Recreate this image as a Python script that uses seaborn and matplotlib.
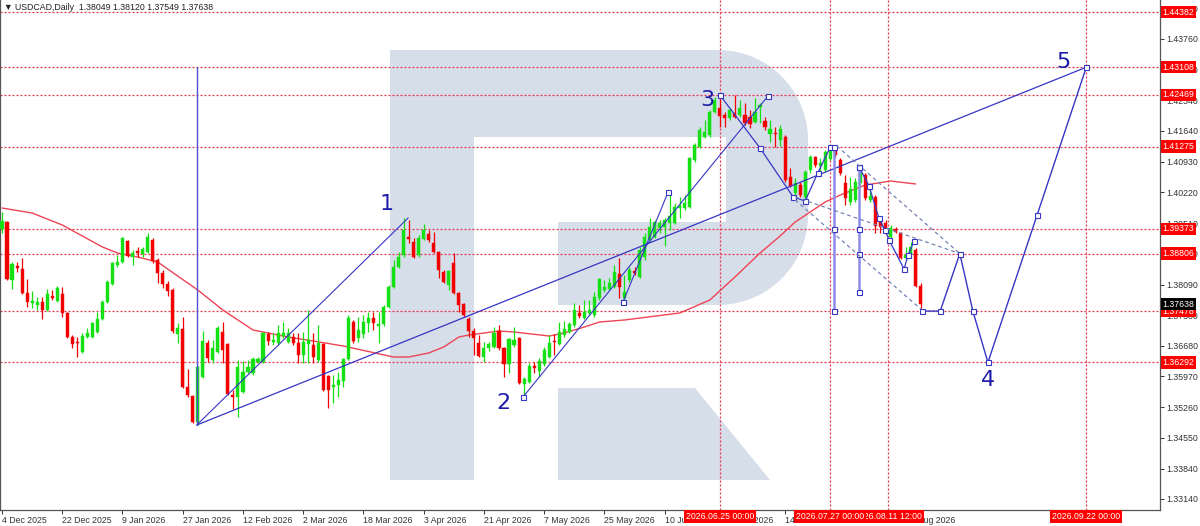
import matplotlib
matplotlib.use("Agg")
import matplotlib.pyplot as plt
import matplotlib.transforms as mtransforms
from matplotlib.patches import Polygon
import numpy as np
import seaborn as sns

sns.set_theme(style="white")
plt.rcParams['font.family'] = ['Liberation Sans', 'DejaVu Sans']

# ---------------- data ----------------
opens = [1.39373,1.39534,1.38195,1.38518,1.38449,1.37895,1.37664,1.37618,1.37687,1.37502,
1.37826,1.37710,1.37872,1.37433,1.36879,1.36764,1.36533,1.36879,1.36879,1.36994,
1.37295,1.37687,1.38103,1.38541,1.38611,1.39096,1.38726,1.38865,1.38795,1.38842,
1.39119,1.38657,1.38357,1.38103,1.37964,1.36948,1.37064,1.35725,1.35517,1.34917,
1.35956,1.36741,1.36348,1.36533,1.36994,1.36717,1.35540,1.35494,1.35609,1.36071,
1.36048,1.36302,1.36302,1.36948,1.36764,1.36741,1.36902,1.36764,1.36879,1.36741,
1.36464,1.36717,1.36695,1.36348,1.36717,1.35979,1.35725,1.35771,1.35863,1.36371,
1.37225,1.36856,1.36948,1.37202,1.37318,1.37133,1.37179,1.37572,1.38034,1.38495,
1.38772,1.39188,1.39073,1.38772,1.39142,1.39257,1.39050,1.38842,1.38380,1.38080,
1.38588,1.37895,1.37641,1.37295,1.37018,1.36741,1.36418,1.36625,1.36649,1.37018,
1.36625,1.36256,1.36695,1.36856,1.35794,1.35840,1.36210,1.36094,1.36256,1.36418,
1.36787,1.36717,1.36925,1.36994,1.37156,1.37433,1.37318,1.37433,1.37387,1.37780,
1.37964,1.37987,1.38034,1.38334,1.37780,1.38195,1.38403,1.38264,1.38726,1.39119,
1.39188,1.39396,1.39419,1.39511,1.39511,1.39858,1.39858,1.39881,1.40966,1.41266,
1.41497,1.41543,1.42074,1.42166,1.42005,1.41936,1.42051,1.42005,1.42005,1.41959,
1.41843,1.42189,1.41866,1.41566,1.41589,1.41428,1.41497,1.40574,1.40204,1.40389,
1.40112,1.40735,1.41035,1.40827,1.40735,1.40990,1.41197,1.40966,1.40435,1.39996,
1.40042,1.40435,1.40620,1.40042,1.40112,1.39627,1.39511,1.39188,1.39373,1.39281,
1.38703,1.38772,1.38888,1.38049]
highs = [1.39765,1.39557,1.38611,1.38611,1.38703,1.38218,1.37941,1.37803,1.37803,1.37987,
1.37964,1.38057,1.38034,1.37456,1.36925,1.36879,1.36971,1.37087,1.37225,1.37456,
1.37733,1.38195,1.38611,1.38772,1.39188,1.39119,1.38888,1.38957,1.38957,1.39281,
1.39165,1.38703,1.38426,1.38172,1.38010,1.37202,1.37341,1.36140,1.35540,1.36210,
1.37018,1.36810,1.36810,1.37133,1.37225,1.36741,1.35655,1.36348,1.36325,1.36348,
1.36417,1.36417,1.36994,1.36994,1.36971,1.37156,1.37225,1.37087,1.36971,1.36971,
1.36994,1.37502,1.36971,1.37156,1.36741,1.36002,1.36002,1.36071,1.36394,1.37387,
1.37272,1.37341,1.37387,1.37456,1.37456,1.37456,1.37618,1.38080,1.38657,1.38842,
1.39627,1.39580,1.39165,1.39234,1.39488,1.39350,1.39303,1.38865,1.38426,1.38426,
1.38818,1.37918,1.37664,1.37341,1.37087,1.36925,1.36764,1.36764,1.37110,1.37156,
1.36649,1.36856,1.37110,1.36879,1.35956,1.36279,1.36302,1.36394,1.36649,1.36925,
1.36948,1.37225,1.37248,1.37225,1.37664,1.37618,1.37733,1.37733,1.37918,1.38241,
1.38195,1.38241,1.38541,1.38703,1.38311,1.38495,1.38495,1.38957,1.39281,1.39627,
1.39580,1.39580,1.39627,1.40227,1.39973,1.40112,1.40158,1.41035,1.41359,1.41728,
1.41889,1.42120,1.42420,1.42467,1.42074,1.42166,1.42467,1.42351,1.42282,1.42120,
1.42397,1.42282,1.41959,1.41889,1.41728,1.41774,1.41543,1.40781,1.40551,1.40458,
1.40735,1.41081,1.41058,1.41012,1.41197,1.41266,1.41243,1.41012,1.40620,1.40573,
1.40551,1.40804,1.40666,1.40343,1.40158,1.39650,1.39580,1.39465,1.39419,1.39303,
1.38957,1.39073,1.38934,1.38120]
lows = [1.39281,1.38195,1.37987,1.38380,1.37872,1.37572,1.37549,1.37502,1.37295,1.37479,
1.37733,1.37687,1.37341,1.36856,1.36625,1.36418,1.36510,1.36856,1.36856,1.36971,
1.37272,1.37664,1.38080,1.38495,1.38588,1.38726,1.38541,1.38726,1.38726,1.38818,
1.38588,1.38126,1.38010,1.37826,1.36971,1.36741,1.35701,1.35494,1.34894,1.34847,
1.35933,1.36302,1.36279,1.36510,1.36279,1.35540,1.35217,1.35032,1.35586,1.36048,
1.36002,1.36279,1.36279,1.36695,1.36695,1.36695,1.36856,1.36741,1.36695,1.36279,
1.36279,1.36279,1.36279,1.36302,1.35632,1.35240,1.35355,1.35494,1.35725,1.36348,
1.36741,1.36764,1.36856,1.36994,1.37041,1.36741,1.37133,1.37549,1.38010,1.38472,
1.38726,1.39050,1.38703,1.38726,1.39119,1.39073,1.38818,1.38241,1.38126,1.37964,
1.37872,1.37456,1.37341,1.36879,1.36464,1.36418,1.36302,1.36556,1.36625,1.36579,
1.35956,1.36048,1.36649,1.35794,1.35494,1.35817,1.36048,1.35956,1.36210,1.36394,
1.36464,1.36695,1.36879,1.36971,1.37110,1.37318,1.37295,1.37387,1.37341,1.37733,
1.37918,1.37964,1.38010,1.37780,1.37687,1.38149,1.38311,1.38241,1.38657,1.39073,
1.39165,1.39281,1.38980,1.39350,1.39488,1.39627,1.39811,1.39858,1.40920,1.41243,
1.41474,1.41497,1.42051,1.41728,1.41728,1.41889,1.41936,1.41959,1.41774,1.41705,
1.41820,1.41820,1.41658,1.41382,1.41266,1.41289,1.40458,1.40343,1.40158,1.40112,
1.40042,1.40666,1.40804,1.40620,1.40689,1.40966,1.41035,1.40620,1.39927,1.39927,
1.39996,1.40389,1.40042,1.39996,1.39281,1.39281,1.39257,1.39119,1.39281,1.38680,
1.38657,1.38726,1.38034,1.37549]
closes = [1.39557,1.38218,1.38565,1.38472,1.37895,1.37687,1.37710,1.37687,1.37502,1.37872,
1.37780,1.38010,1.37433,1.36879,1.36717,1.36741,1.36902,1.36971,1.37202,1.37295,
1.37687,1.38149,1.38588,1.38611,1.39165,1.38749,1.38818,1.38818,1.38911,1.39188,
1.38634,1.38357,1.38103,1.37941,1.37018,1.37087,1.35725,1.35540,1.34917,1.36187,
1.36787,1.36394,1.36625,1.37087,1.36579,1.35563,1.35494,1.36187,1.36071,1.36187,
1.36371,1.36371,1.36971,1.36787,1.36810,1.36971,1.36971,1.36971,1.36741,1.36464,
1.36764,1.36810,1.36418,1.36741,1.35655,1.35655,1.35771,1.35886,1.36371,1.37318,
1.36787,1.37041,1.37225,1.37318,1.37202,1.37179,1.37572,1.38034,1.38495,1.38726,
1.39350,1.39142,1.38726,1.39165,1.39350,1.39119,1.38842,1.38426,1.38149,1.38403,
1.37895,1.37618,1.37387,1.37018,1.36856,1.36441,1.36625,1.36717,1.36971,1.36625,
1.36256,1.36833,1.36810,1.35817,1.35910,1.36210,1.36164,1.36325,1.36579,1.36741,
1.36764,1.36994,1.37064,1.37179,1.37502,1.37364,1.37456,1.37502,1.37803,1.38218,
1.38034,1.38126,1.38380,1.38034,1.37918,1.38426,1.38357,1.38888,1.39188,1.39419,
1.39534,1.39511,1.39580,1.39673,1.39881,1.39904,1.39973,1.41012,1.41313,1.41658,
1.41612,1.42074,1.42351,1.41982,1.41936,1.42120,1.41959,1.42166,1.41820,1.41797,
1.42074,1.42236,1.41728,1.41682,1.41566,1.41682,1.40504,1.40366,1.40435,1.40158,
1.40689,1.41035,1.40851,1.40897,1.41151,1.41243,1.41081,1.40666,1.40088,1.40296,
1.40458,1.40666,1.40088,1.40135,1.39442,1.39419,1.39281,1.39396,1.39303,1.38703,
1.38772,1.38957,1.38057,1.37638]

date_labels = ["4 Dec 2025", "22 Dec 2025", "9 Jan 2026", "27 Jan 2026", "12 Feb 2026",
               "2 Mar 2026", "18 Mar 2026", "3 Apr 2026", "21 Apr 2026", "7 May 2026",
               "25 May 2026", "10 Jun 2026", "26 Jun 2026", "14 Jul 2026", "30 Jul 2026",
               "17 Aug 2026"]
label_step = 12

price_ticks = [1.44470, 1.43760, 1.43050, 1.42340, 1.41640, 1.40930, 1.40220, 1.39510,
               1.38800, 1.38090, 1.37380, 1.36680, 1.35970, 1.35260, 1.34550, 1.33840, 1.33140]
levels = [1.44382, 1.43108, 1.42469, 1.41275, 1.39373, 1.38806, 1.37478, 1.36292]
last_price = 1.37638

# moving average (bar index, value)
ma_idx = [0, 6, 12, 20, 23, 27, 31, 39, 44, 50, 57, 62, 68, 78, 81, 85, 88, 91, 93, 99,
          102, 109, 112, 116, 119, 124, 135, 141, 146, 151, 155, 158, 164, 167, 172, 177, 182]
ma_val = [1.39857, 1.39742, 1.39465, 1.38957, 1.38818, 1.38726, 1.38611, 1.37964, 1.37502,
          1.37041, 1.36879, 1.36787, 1.36671, 1.36417, 1.36417, 1.36510, 1.36649, 1.36879,
          1.36925, 1.37018, 1.36994, 1.36902, 1.36971, 1.37110, 1.37225, 1.37272, 1.37433,
          1.37733, 1.38264, 1.38818, 1.39211, 1.39534, 1.39996, 1.40158, 1.40389, 1.40481,
          1.40412]

# time markers (bar positions) and their labels
vline_pos = [143, 165, 176.5, 216]
vline_text = ["2026.06.25 00:00", "2026.07.27 00:00", "2026.08.11 12:00", "2026.09.22 00:00"]

# wave drawing objects (bar position, price)
long_x, long_y = [38.8, 216], [1.34847, 1.43108]
w1_x, w1_y = [38.8, 80.9], [1.34847, 1.39627]
start_vert_x, start_vert_y = [38.8, 38.8], [1.34847, 1.43108]
w3_x, w3_y = [103.8, 152.6], [1.35494, 1.42444]
sub_x, sub_y = [123.7, 132.7], [1.37687, 1.40227]
corr1_x = [143, 151.0, 157.6, 160.0, 162.5, 165.0]
corr1_y = [1.42467, 1.41243, 1.40112, 1.40019, 1.40666, 1.41266]
corr2_x = [170.7, 172.7, 174.7, 175.9, 176.7, 179.7, 180.5, 181.7]
corr2_y = [1.40811, 1.40372, 1.39620, 1.39350, 1.39119, 1.38449, 1.38772, 1.39096]
bar1_x, bar1_y = 165.7, [1.41275, 1.39373, 1.37478]
bar2_x, bar2_y = 170.7, [1.40811, 1.39373, 1.38806, 1.37925]
dash_lines = [([166.3, 190.8], [1.41289, 1.38806]),
              ([158.0, 190.8], [1.40112, 1.38806]),
              ([158.0, 183.7], [1.40042, 1.37457])]
fc_x = [183.3, 186.9, 190.8, 193.4, 196.4, 206.2, 216]
fc_y = [1.37478, 1.37478, 1.38806, 1.37478, 1.36292, 1.39696, 1.43108]
wave_labels = ["1", "2", "3", "4", "5"]
wave_lab_x = [76.7, 99.8, 140.6, 196.4, 211.4]
wave_lab_y = [1.39950, 1.35355, 1.42351, 1.35886, 1.43229]

# ---------------- style ----------------
BULL = "#14e014"
BEAR = "#f20000"
LEVEL = "#e8334f"
BLUE = "#3636c4"
WAVE_TXT = "#1c1ca8"
WM = "#d6dee9"
FS = 6.3

W, H = 1200, 526
fig = plt.figure(figsize=(W / 100, H / 100), dpi=100)
fig.patch.set_facecolor("white")
AX_W, AX_H = 1160, 510
ax = fig.add_axes([0, 1 - AX_H / H, AX_W / W, AX_H / H])
ax.set_facecolor("white")
ax.set_xlim(-0.4, 230.68)
ax.set_ylim(1.32885, 1.44660)

# watermark logo (axes-fraction decoration)
def px(pts):
    return [(x / AX_W, 1 - y / AX_H) for x, y in pts]

t = np.linspace(0, np.pi / 2, 20)
top_arc = [(718 + 90 * np.sin(a), 140 - 90 * np.cos(a)) for a in t]
bot_arc = [(718 + 90 * np.cos(a), 215 + 90 * np.sin(a)) for a in t]
bowl = [(474, 50)] + top_arc + [(808, 140)] + bot_arc + [(718, 305), (558, 305), (558, 222),
        (726, 222), (726, 137), (474, 137)]
stem = [(390, 50), (474, 50), (474, 480), (390, 480)]
leg = [(558, 388), (695, 388), (770, 480), (558, 480)]
for shape in (stem, bowl, leg):
    ax.add_patch(Polygon(px(shape), closed=True, transform=ax.transAxes,
                         facecolor=WM, edgecolor="none", zorder=0.5))

# horizontal levels and vertical time lines
for lv in levels:
    ax.axhline(lv, color=LEVEL, lw=0.9, ls=(0, (1.6, 1.6)), zorder=1)
for vx in vline_pos:
    ax.axvline(vx, color=LEVEL, lw=0.9, ls=(0, (1.6, 1.6)), zorder=1)

# moving average
sns.lineplot(x=ma_idx, y=ma_val, ax=ax, color="#ee4455", lw=1.0, zorder=2, legend=False)

# candles
o = np.array(opens); h = np.array(highs); l = np.array(lows); c = np.array(closes)
idx = np.arange(len(o))
cols = np.where(c >= o, BULL, BEAR)
ax.vlines(idx, l, h, colors=cols, lw=0.9, zorder=3)
ax.bar(idx, np.maximum(np.abs(c - o), 0.00007), bottom=np.minimum(o, c), width=0.62,
       color=cols, edgecolor=cols, lw=0.3, zorder=4)

# wave lines
mk = dict(marker="s", ms=3.6, mfc="white", mec=BLUE, mew=0.8)
ax.plot(long_x, long_y, color=BLUE, lw=0.9, zorder=5)
ax.plot(w1_x, w1_y, color=BLUE, lw=0.8, zorder=5)
ax.plot(start_vert_x, start_vert_y, color="#5050d0", lw=1.0, zorder=5)
ax.plot(w3_x, w3_y, color=BLUE, lw=0.8, zorder=5, **mk)
ax.plot(sub_x, sub_y, color=BLUE, lw=0.8, zorder=5, **mk)
ax.plot(corr1_x, corr1_y, color=BLUE, lw=0.9, zorder=5, **mk)
ax.plot(corr2_x, corr2_y, color=BLUE, lw=0.9, zorder=5, **mk)
ax.plot([bar1_x] * len(bar1_y), bar1_y, color="#8c8ce8", lw=1.8, zorder=5, **mk)
ax.plot([bar2_x] * len(bar2_y), bar2_y, color="#8c8ce8", lw=1.8, zorder=5, **mk)
for dx, dy in dash_lines:
    ax.plot(dx, dy, color="#7482b8", lw=0.9, ls=(0, (3, 2.5)), zorder=5)
sns.lineplot(x=fc_x, y=fc_y, ax=ax, color=BLUE, lw=1.0, zorder=6, legend=False,
             sort=False, estimator=None, **mk)
for s, xx, yy in zip(wave_labels, wave_lab_x, wave_lab_y):
    ax.text(xx, yy, s, color=WAVE_TXT, fontsize=16, ha="center", va="center", zorder=7,
            family=["DejaVu Sans"])

# axes frame
for side in ("left", "right", "bottom"):
    ax.spines[side].set_visible(True)
    ax.spines[side].set_color("#555555")
    ax.spines[side].set_linewidth(0.9)
ax.spines["top"].set_visible(False)
ax.grid(False)

# price axis on the right
ax.yaxis.tick_right()
ax.set_yticks(price_ticks)
ax.set_yticklabels([f"{p:.5f}" for p in price_ticks])
ax.tick_params(axis="y", right=True, left=False, length=3, width=0.7, pad=1.5,
               labelsize=FS, colors="#333333", direction="out")

# time axis
ticks_x = [i * label_step for i in range(len(date_labels))]
ax.set_xticks(ticks_x)
ax.set_xticklabels(date_labels)
ax.tick_params(axis="x", bottom=True, length=3, width=0.7, pad=1.0, labelsize=FS,
               colors="#333333", direction="out")
for lab in ax.get_xticklabels():
    lab.set_ha("left")

# right-side price boxes
ty = mtransforms.blended_transform_factory(ax.transAxes, ax.transData)
for lv in levels:
    ax.text(1.0022, lv, f"{lv:.5f}", transform=ty, fontsize=FS, color="white",
            ha="left", va="center", clip_on=False, zorder=10,
            bbox=dict(boxstyle="square,pad=0.2", fc="#ff0000", ec="none"))
ax.text(1.0022, last_price, f"{last_price:.5f}", transform=ty, fontsize=FS, color="white",
        ha="left", va="center", clip_on=False, zorder=11,
        bbox=dict(boxstyle="square,pad=0.2", fc="#000000", ec="none"))

# bottom time boxes (07.27 lies over 08.11)
tx = mtransforms.blended_transform_factory(ax.transData, ax.transAxes)
box_z = [12, 14, 13, 12]
for k in range(len(vline_pos)):
    ax.text(vline_pos[k], -0.0125, vline_text[k], transform=tx, fontsize=FS, color="white",
            ha="center", va="center", clip_on=False, zorder=box_z[k],
            bbox=dict(boxstyle="square,pad=0.2", fc="#ff0000", ec="none"))

# title
fig.text(4 / W, 1 - 8 / H, "\u25BC USDCAD,Daily  1.38049 1.38120 1.37549 1.37638",
         fontsize=FS, color="#222222", ha="left", va="center")

fig.savefig("out.png", dpi=100, facecolor="white")
